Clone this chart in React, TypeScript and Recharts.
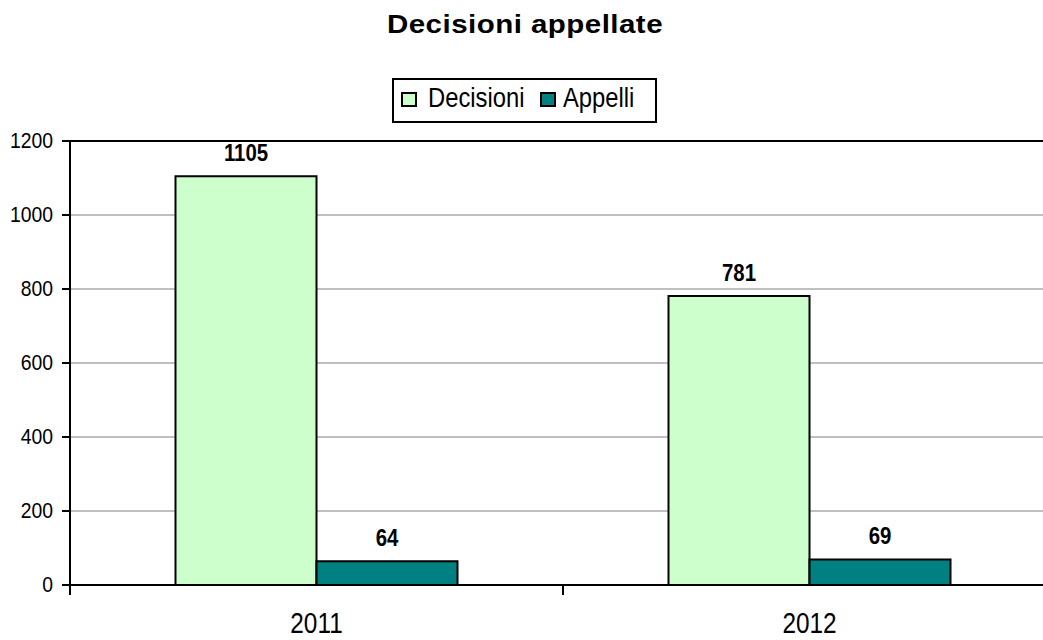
import React from 'react';
import {
  BarChart,
  Bar,
  XAxis,
  YAxis,
  CartesianGrid,
  Legend,
  LabelList,
  ReferenceLine,
} from 'recharts';

const categories = ['2011', '2012'];
const decisioni = [1105, 781];
const appelli = [64, 69];
const yTicks = [0, 200, 400, 600, 800, 1000, 1200];
const seriesNames = ['Decisioni', 'Appelli'];
const seriesColors = ['#CCFFCC', '#008080'];
const title = 'Decisioni appellate';

const data = categories.map((c, i) => ({
  year: c,
  Decisioni: decisioni[i],
  Appelli: appelli[i],
}));

const SANS = '"Liberation Sans", Arial, sans-serif';

const XTick = (props: any) => {
  const { x, y, payload, width, visibleTicksCount } = props;
  const half =
    payload && typeof payload.offset === 'number' && payload.offset > 0
      ? payload.offset
      : width / (visibleTicksCount || categories.length) / 2;
  const axisY = y; // tickSize 0, tickMargin 0
  return (
    <g>
      <line x1={x - half} x2={x - half} y1={axisY} y2={axisY + 10} stroke="#000" strokeWidth={2} />
      <line x1={x + half} x2={x + half} y1={axisY} y2={axisY + 10} stroke="#000" strokeWidth={2} />
      <text
        transform={`translate(${x},${axisY + 48}) scale(0.84,1)`}
        textAnchor="middle"
        fontFamily={SANS}
        fontSize={29}
        fill="#000"
      >
        {payload.value}
      </text>
    </g>
  );
};

const YTick = (props: any) => {
  const { x, y, payload } = props;
  return (
    <text
      transform={`translate(${x},${y}) scale(0.88,1)`}
      textAnchor="end"
      dy="0.32em"
      fontFamily={SANS}
      fontSize={22}
      fill="#000"
    >
      {payload.value}
    </text>
  );
};

const ValueLabel = (props: any) => {
  const { x, y, width, value } = props;
  return (
    <text
      transform={`translate(${x + width / 2},${y - 15}) scale(0.85,1)`}
      textAnchor="middle"
      fontFamily={SANS}
      fontWeight="bold"
      fontSize={24}
      fill="#000"
    >
      {value}
    </text>
  );
};

const LegendContent = () => (
  <svg width={265} height={45} style={{ display: 'block', overflow: 'visible' }}>
    <rect x={1} y={1} width={263} height={43} fill="#fff" stroke="#000" strokeWidth={2} />
    <rect x={10} y={15} width={14} height={13} fill={seriesColors[0]} stroke="#000" strokeWidth={2} />
    <text
      transform="translate(36,29) scale(0.85,1)"
      fontFamily={SANS}
      fontSize={28}
      fill="#000"
    >
      {seriesNames[0]}
    </text>
    <rect x={149} y={15} width={14} height={13} fill={seriesColors[1]} stroke="#000" strokeWidth={2} />
    <text
      transform="translate(171,29) scale(0.85,1)"
      fontFamily={SANS}
      fontSize={28}
      fill="#000"
    >
      {seriesNames[1]}
    </text>
  </svg>
);

export default function App() {
  return (
    <div
      style={{
        position: 'fixed',
        left: 0,
        top: 0,
        width: 1043,
        height: 640,
        overflow: 'hidden',
        background: '#fff',
      }}
    >
      <svg
        width={1043}
        height={45}
        style={{ position: 'absolute', left: 0, top: 0 }}
      >
        <text
          transform="translate(525,33) scale(1.18,1)"
          textAnchor="middle"
          fontFamily={SANS}
          fontWeight="bold"
          fontSize={25}
          letterSpacing={0.4}
          fill="#000"
        >
          {title}
        </text>
      </svg>
      <BarChart
        width={1080}
        height={640}
        data={data}
        margin={{ top: 141, right: 24, left: 0, bottom: 0 }}
        barCategoryGap="21.4%"
        barGap={0}
        style={{ position: 'absolute', left: 0, top: 0 }}
      >
        <CartesianGrid vertical={false} stroke="#808080" strokeWidth={1} />
        <XAxis
          dataKey="year"
          height={55}
          tickSize={0}
          tickMargin={0}
          tickLine={false}
          axisLine={{ stroke: '#000', strokeWidth: 2 }}
          tick={<XTick />}
          interval={0}
        />
        <YAxis
          domain={[0, 1200]}
          ticks={yTicks}
          width={70}
          tickSize={8}
          tickMargin={9}
          interval={0}
          axisLine={{ stroke: '#000', strokeWidth: 2 }}
          tickLine={{ stroke: '#000', strokeWidth: 2 }}
          tick={<YTick />}
        />
        <ReferenceLine y={1200} stroke="#000" strokeWidth={2} />
        <Legend
          content={<LegendContent />}
          wrapperStyle={{
            position: 'absolute',
            top: 78,
            left: 392,
            width: 265,
            height: 0,
            overflow: 'visible',
          }}
        />
        {seriesNames.map((n, i) => (
          <Bar
            key={n}
            dataKey={n}
            fill={seriesColors[i]}
            stroke="#000"
            strokeWidth={2}
            isAnimationActive={false}
          >
            <LabelList dataKey={n} content={<ValueLabel />} />
          </Bar>
        ))}
      </BarChart>
    </div>
  );
}
